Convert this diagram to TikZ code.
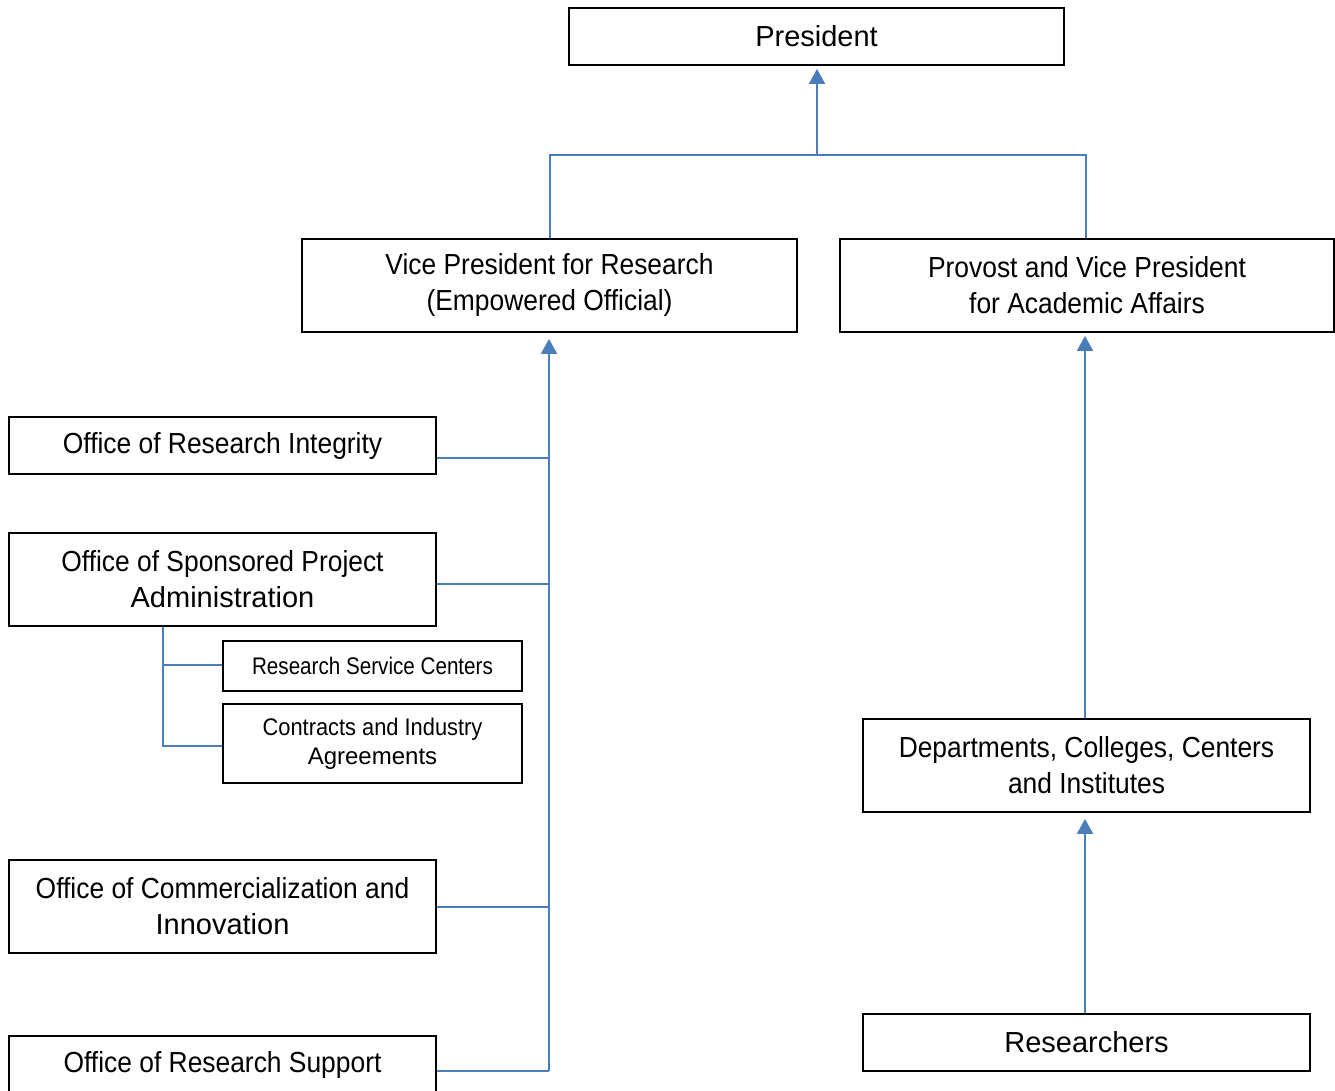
\documentclass[tikz,border=0pt]{standalone}
\usepackage{fontspec}
\setmainfont{Liberation Sans}
\newfontfamily\condA[FakeStretch=0.91]{Liberation Sans}
\newfontfamily\condB[FakeStretch=0.86]{Liberation Sans}
\usetikzlibrary{arrows.meta}
\definecolor{linkblue}{HTML}{4A7EBB}
\tikzset{
  orgbox/.style={draw=black, line width=1.8pt, rectangle, align=center, inner sep=0pt, fill=white},
  bigtext/.style={font=\fontsize{29}{36}\selectfont},
  smltext/.style={font=\fontsize{24}{29}\selectfont},
  conn/.style={draw=linkblue, line width=1.8pt},
  upconn/.style={conn, -{Triangle[width=16pt,length=15pt]}}
}
\begin{document}
\begin{tikzpicture}[x=1pt,y=-1pt]
\useasboundingbox (0,0) rectangle (1335,1091);
\clip (0,0) rectangle (1335,1091);
% nodes
\node[orgbox, bigtext, minimum width=495pt, minimum height=57pt] (pres) at (816.5,36.5) {President};
\node[orgbox, bigtext, minimum width=495pt, minimum height=93pt] (vpr) at (549.5,285.5) {\condA Vice President for Research\\\condA (Empowered Official)};
\node[orgbox, bigtext, minimum width=494pt, minimum height=93pt] (prov) at (1087,285.5) {\condA Provost and Vice President\\\condA for Academic Affairs};
\node[orgbox, bigtext, minimum width=427pt, minimum height=57pt] (ori) at (222.5,445.5) {\condA Office of Research Integrity};
\node[orgbox, bigtext, minimum width=427pt, minimum height=93pt] (ospa) at (222.5,579.5) {\condA Office of Sponsored Project\\Administration};
\node[orgbox, smltext, minimum width=299pt, minimum height=50pt] (rsc) at (372.5,666) {\condB Research Service Centers};
\node[orgbox, smltext, minimum width=299pt, minimum height=79pt] (cia) at (372.5,743.5) {\condA Contracts and Industry\\Agreements};
\node[orgbox, bigtext, minimum width=427pt, minimum height=93pt] (oci) at (222.5,906.5) {\condA Office of Commercialization and\\Innovation};
\node[orgbox, bigtext, minimum width=427pt, minimum height=57pt] (ors) at (222.5,1064.5) {\condA Office of Research Support};
\node[orgbox, bigtext, minimum width=447pt, minimum height=93pt] (dept) at (1086.5,765.5) {\condA Departments, Colleges, Centers\\\condA and Institutes};
\node[orgbox, bigtext, minimum width=447pt, minimum height=57pt] (res) at (1086.5,1042.5) {Researchers};
% top connectors
\coordinate (top) at (817,155);
\coordinate (tl) at (550,155);
\coordinate (tr) at (1086,155);
\draw[conn] (tl |- vpr.north) -- (tl) -- (tr) -- (tr |- prov.north);
\draw[upconn, shorten >=3pt] (top) -- (top |- pres.south);
% VPR bus
\coordinate (b1) at (549,458);
\coordinate (b2) at (549,584);
\coordinate (b3) at (549,907);
\coordinate (b4) at (549,1071);
\draw[upconn, shorten >=6pt] (b4) -- (b4 |- vpr.south);
\draw[conn] (b1 -| ori.east) -- (b1);
\draw[conn] (b2 -| ospa.east) -- (b2);
\draw[conn] (b3 -| oci.east) -- (b3);
\draw[conn] (b4 -| ors.east) -- (b4);
% OSPA sub-branches
\coordinate (s1) at (163,665);
\coordinate (s2) at (163,746);
\draw[conn] (s1 |- ospa.south) -- (s2) -- (s2 -| cia.west);
\draw[conn] (s1) -- (s1 -| rsc.west);
% right column
\coordinate (r1) at (1085,0);
\draw[upconn, shorten >=3pt] (r1 |- dept.north) -- (r1 |- prov.south);
\draw[upconn, shorten >=6pt] (r1 |- res.north) -- (r1 |- dept.south);
\end{tikzpicture}
\end{document}
